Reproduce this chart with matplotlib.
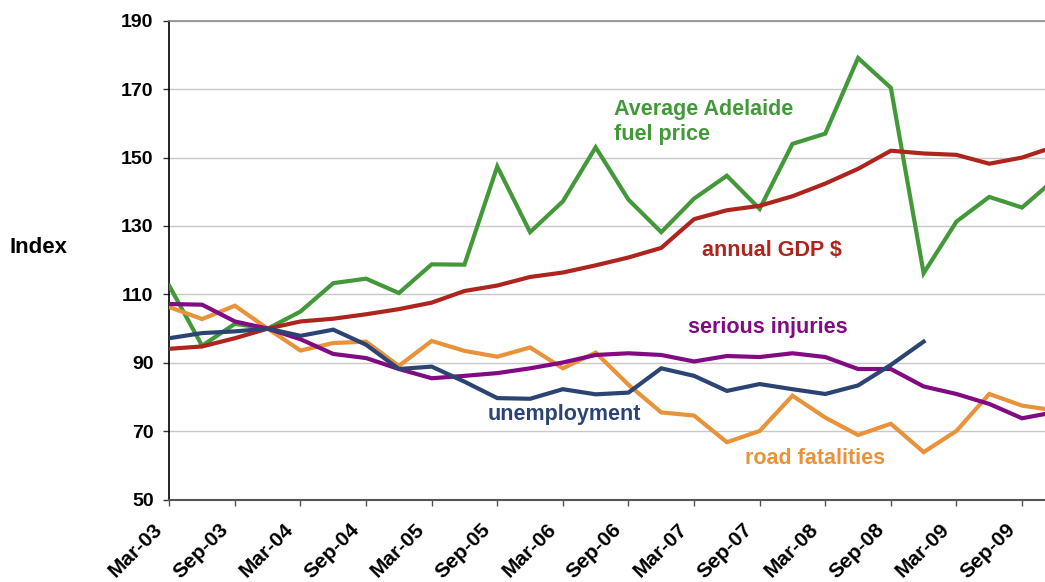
"""Quarterly index chart: fuel price, GDP, unemployment, injuries, fatalities."""

import matplotlib

matplotlib.use("Agg")
from matplotlib import pyplot as plt
from matplotlib.transforms import ScaledTranslation

plt.rcParams["font.family"] = ["Liberation Sans", "DejaVu Sans"]
plt.rcParams["font.weight"] = "bold"

# quarters Mar-03 .. Dec-09 (index, Dec-03 = 100)
quarter_labels = [
    "Mar-03", "Jun-03", "Sep-03", "Dec-03", "Mar-04", "Jun-04", "Sep-04", "Dec-04",
    "Mar-05", "Jun-05", "Sep-05", "Dec-05", "Mar-06", "Jun-06", "Sep-06", "Dec-06",
    "Mar-07", "Jun-07", "Sep-07", "Dec-07", "Mar-08", "Jun-08", "Sep-08", "Dec-08",
    "Mar-09", "Jun-09", "Sep-09", "Dec-09",
]
fuel_price = [
    112.5, 95.0, 101.4, 100.0, 105.0, 113.3, 114.6, 110.4,
    118.8, 118.7, 147.4, 128.2, 137.2, 153.0, 137.7, 128.2,
    138.0, 144.7, 135.0, 154.0, 157.0, 179.1, 170.4, 116.2,
    131.3, 138.5, 135.4, 143.7,
]
gdp = [
    94.1, 94.8, 97.2, 100.0, 102.1, 102.9, 104.2, 105.7,
    107.6, 111.0, 112.6, 115.1, 116.4, 118.5, 120.8, 123.6,
    132.0, 134.6, 135.9, 138.7, 142.4, 146.7, 152.0, 151.2,
    150.8, 148.2, 150.0, 153.2,
]
unemployment = [
    97.2, 98.7, 99.2, 100.0, 97.9, 99.7, 95.3, 88.2,
    88.9, 84.5, 79.7, 79.5, 82.3, 80.8, 81.3, 88.4,
    86.2, 81.8, 83.8, 82.3, 80.9, 83.4, 89.4, 96.2,
]
serious_injuries = [
    107.2, 107.0, 102.1, 100.0, 96.9, 92.6, 91.4, 88.2,
    85.5, 86.2, 87.0, 88.4, 90.1, 92.3, 92.8, 92.3,
    90.4, 92.0, 91.7, 92.8, 91.7, 88.2, 88.2, 83.1,
    80.9, 78.0, 73.8, 75.6,
]
road_fatalities = [
    106.3, 102.8, 106.7, 100.0, 93.6, 95.8, 96.2, 89.1,
    96.4, 93.5, 91.8, 94.5, 88.4, 93.0, 83.6, 75.5,
    74.6, 66.8, 70.1, 80.4, 74.0, 68.9, 72.2, 63.9,
    70.1, 80.9, 77.5, 76.1,
]
y_ticks = [50, 70, 90, 110, 130, 150, 170, 190]

GREEN = "#43993a"
RED = "#ad251d"
NAVY = "#2c4473"
PURPLE = "#820a82"
ORANGE = "#e8923a"

figure = plt.figure(figsize=(10.45, 5.82), dpi=100)
axis = figure.add_axes((0.162, 0.1414, 0.838, 0.823))

series = (
    (fuel_price, GREEN),
    (gdp, RED),
    (road_fatalities, ORANGE),
    (serious_injuries, PURPLE),
    (unemployment, NAVY),
)
for values, color in series:
    axis.plot(range(len(values)), values, color=color, linewidth=3.0,
              solid_joinstyle="miter", zorder=3)

axis.set_ylim(50, 190)
axis.set_yticks(y_ticks)
axis.set_xlim(0, 26.7)
axis.set_xticks(range(0, len(quarter_labels), 2))
axis.set_xticklabels(quarter_labels[::2], rotation=45, ha="right", va="baseline",
                     rotation_mode="anchor", fontsize=15, fontweight="bold")
axis.tick_params(axis="y", labelsize=14, length=4.3, width=1, color="#333333", pad=7)
axis.tick_params(axis="x", length=4.3, width=1, color="#555555", pad=18)
for label in axis.get_yticklabels():
    label.set_fontweight("bold")
shift = ScaledTranslation(-6 / 100, 0, figure.dpi_scale_trans)
for label in axis.get_xticklabels():
    label.set_transform(label.get_transform() + shift)

axis.grid(axis="y", color="#c8c8c8", linewidth=1)
axis.set_axisbelow(True)
axis.spines["right"].set_visible(False)
axis.spines["top"].set_color("#8c8c8c")
axis.spines["top"].set_linewidth(1.2)
axis.spines["left"].set_color("black")
axis.spines["left"].set_linewidth(1.2)
axis.spines["bottom"].set_color("#555555")
axis.spines["bottom"].set_linewidth(1.5)

text_style = dict(fontsize=15.5, fontweight="bold", ha="left", va="center")
axis.text(13.56, 160.5, "Average Adelaide\nfuel price", color=GREEN,
          linespacing=1.25, **text_style)
axis.text(16.24, 122.7, "annual GDP $", color=RED, **text_style)
axis.text(15.81, 100.3, "serious injuries", color=PURPLE, **text_style)
axis.text(9.72, 75.0, "unemployment", color=NAVY, **text_style)
axis.text(17.55, 62.1, "road fatalities", color=ORANGE, **text_style)

figure.text(0.0095, 0.5756, "Index", fontsize=16, fontweight="bold",
            ha="left", va="center")

figure.savefig("out.png", dpi=100)
plt.close(figure)
